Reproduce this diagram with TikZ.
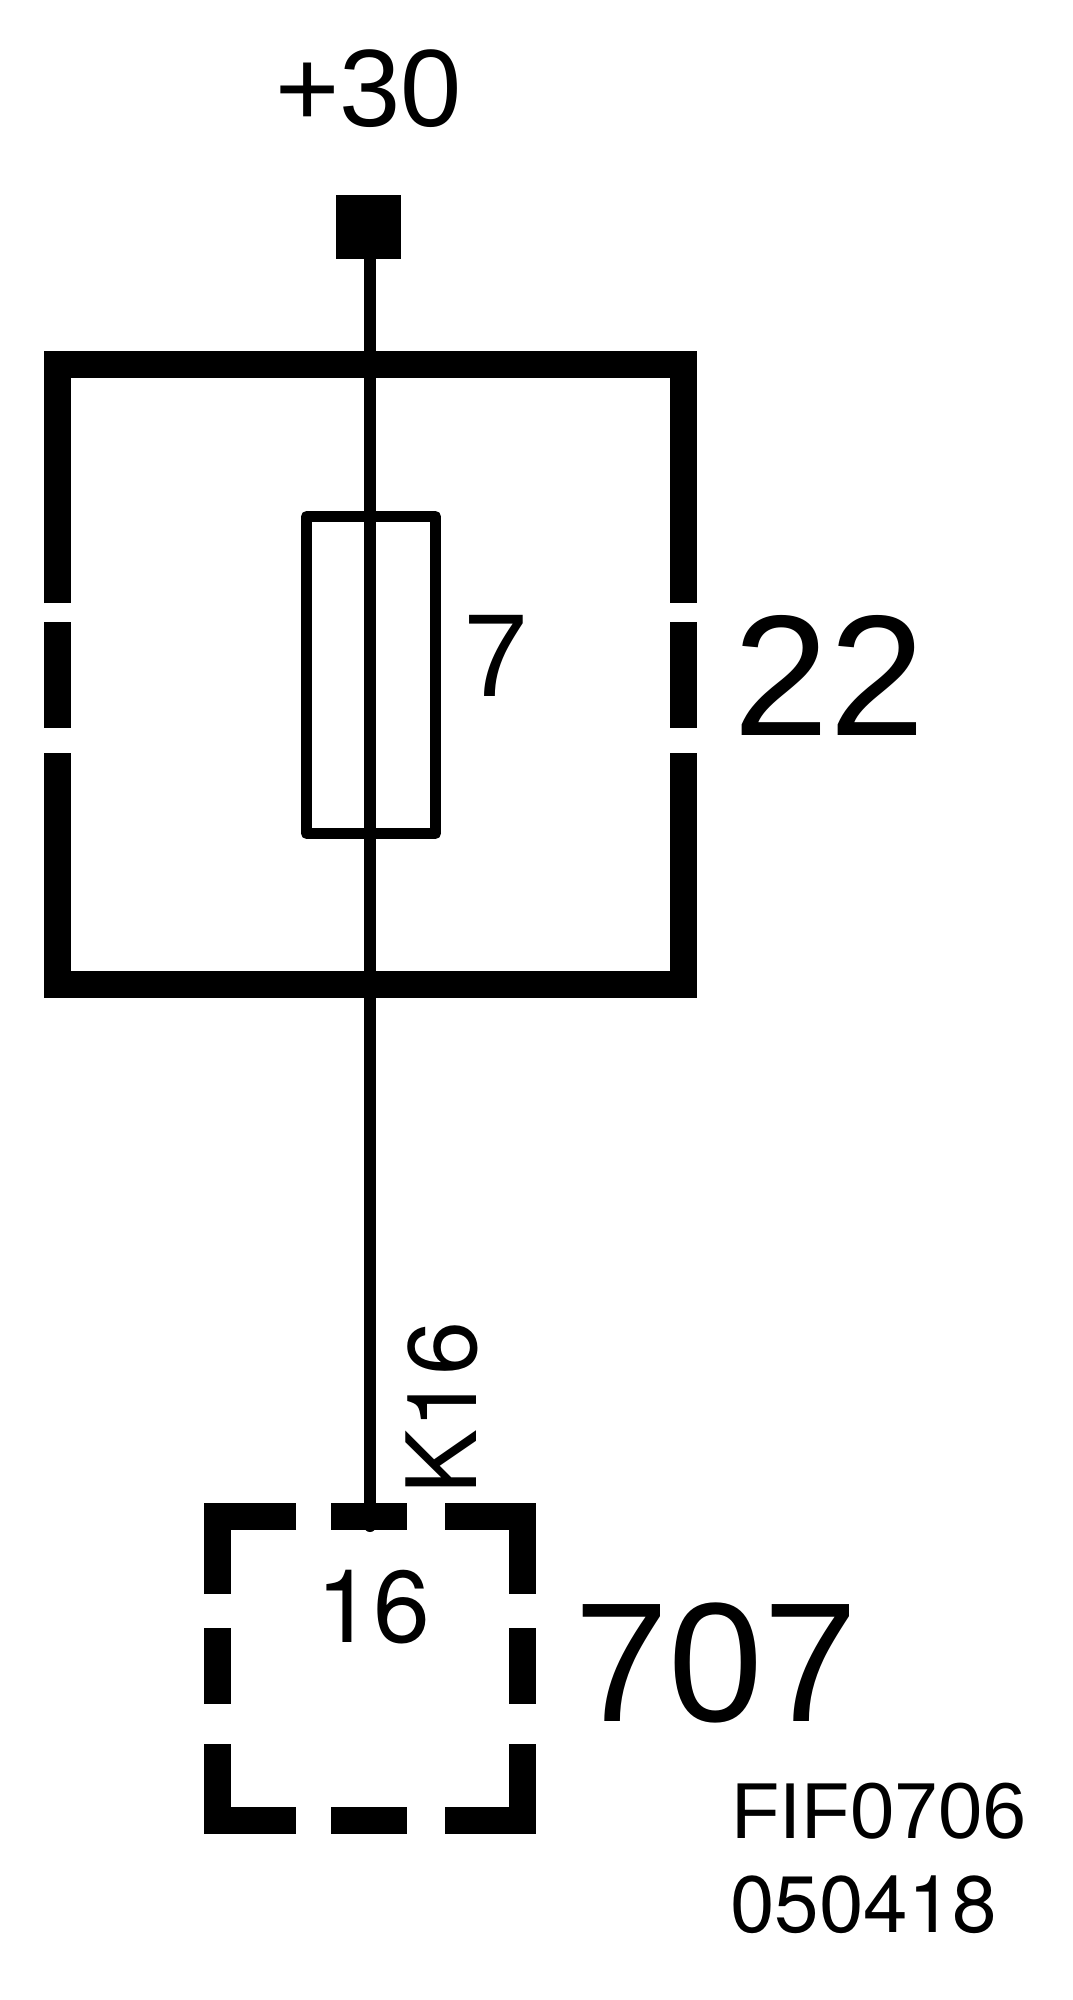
\documentclass[tikz,border=0pt]{standalone}
\usepackage{fontspec}
\setmainfont{Liberation Sans}
\newfontfamily\herosfont{TeX Gyre Heros}
\newcommand{\pxsize}[1]{\fontsize{#1}{#1}\selectfont}
\tikzset{
    frame/.style={line width=13.5pt},
    wire/.style={line width=6pt, line cap=round},
    tag/.style={inner sep=0pt, anchor=base west}
}
\begin{document}
\begin{tikzpicture}[x=0.5pt,y=-0.5pt]
    \useasboundingbox (0,0) rectangle (1072,2000);

    \draw [frame](57.5,603) -- (57.5,365) -- (683.5,365) -- (683.5,603);
    \draw [frame](57.5,622) -- (57.5,728);
    \draw [frame](683.5,622) -- (683.5,728);
    \draw [frame](57.5,753) -- (57.5,984.5) -- (683.5,984.5) -- (683.5,753);

    \draw [frame](296,1516.5) -- (217.5,1516.5) -- (217.5,1594);
    \draw [frame](331,1516.5) -- (407,1516.5);
    \draw [frame](445,1516.5) -- (522.5,1516.5) -- (522.5,1594);
    \draw [frame](217.5,1628) -- (217.5,1704);
    \draw [frame](522.5,1628) -- (522.5,1704);
    \draw [frame](217.5,1744) -- (217.5,1820.5) -- (296,1820.5);
    \draw [frame](331,1820.5) -- (407,1820.5);
    \draw [frame](522.5,1744) -- (522.5,1820.5) -- (445,1820.5);

    \node [fill, inner sep=0pt, minimum width=32.5pt, minimum height=32pt](pin) at (368,227) {};
    \node [draw, line width=5.5pt, line join=round, inner sep=0pt, minimum width=64.5pt, minimum height=158.5pt](fuse) at (371,675) {};
    \coordinate (wireend) at (370,1526);
    \draw [wire](wireend |- pin.south) -- (wireend);

    \node [tag](feed) at (275,127) {\pxsize{55}+30};
    \node [tag](rating) at (463,696) {\pxsize{59}7};
    \node [tag](slot) at (733,735.5) {\pxsize{86}22};
    \node [tag, rotate=90](cable) at (476,1495) {\herosfont\pxsize{48.5}K16};
    \node [tag](terminal) at (316,1642) {\herosfont\pxsize{51}16};
    \node [tag](part) at (574,1721) {\pxsize{85}707};
    \node [tag](code) at (731,1838.5) {\pxsize{39.7}FIF0706};
    \node [tag](date) at (730,1932) {\herosfont\pxsize{40}050418};
\end{tikzpicture}
\end{document}
